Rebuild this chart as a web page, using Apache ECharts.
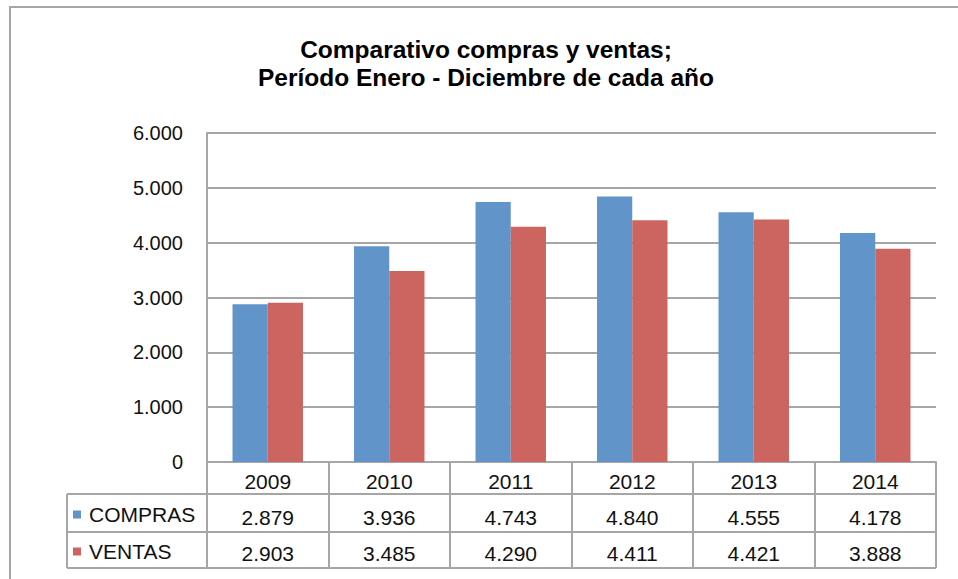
<!DOCTYPE html>
<html>
<head>
<meta charset="utf-8">
<title>Comparativo compras y ventas</title>
<script src="https://cdn.jsdelivr.net/npm/echarts@6/dist/echarts.min.js"></script>
<style>
  html, body { margin: 0; padding: 0; background: #fff; }
  #chart { width: 958px; height: 579px; }
</style>
</head>
<body>
<div id="chart"></div>
<script>
// Yearly purchases vs. sales (January - December)
const years = ['2009', '2010', '2011', '2012', '2013', '2014'];
const compras = [2879, 3936, 4743, 4840, 4555, 4178];
const ventas = [2903, 3485, 4290, 4411, 4421, 3888];
const seriesNames = ['COMPRAS', 'VENTAS'];
const yMin = 0, yMax = 6000, yStep = 1000;

// Layout of the plot and the data table underneath it
const W = 958, H = 579;
const plotLeft = 207, plotRight = 936, plotTop = 133, axisY = 462;
const tableLeft = 67;
const rowLines = [494, 532, 568];
const lineColor = '#a6a6a6';
const font = '"Liberation Sans", Arial, Helvetica, sans-serif';
const colors = ['#6195c9', '#cc655f'];
const tableFontSize = 21;

// Thousands separator with a dot: 4840 -> "4.840"
function fmt(v) {
  return String(v).replace(/\B(?=(\d{3})+(?!\d))/g, '.');
}

const chart = echarts.init(document.getElementById('chart'), null, { renderer: 'svg' });

const tableLines = rowLines.map(y => ({
  type: 'line',
  shape: { x1: tableLeft, y1: y, x2: plotRight, y2: y },
  style: { stroke: lineColor, lineWidth: 2 },
  silent: true
}));
tableLines.push({
  type: 'line',
  shape: { x1: tableLeft, y1: rowLines[0], x2: tableLeft, y2: rowLines[rowLines.length - 1] },
  style: { stroke: lineColor, lineWidth: 2 },
  silent: true
});

function valueAxis(values, margin) {
  return {
    type: 'category',
    data: years,
    gridIndex: 0,
    position: 'bottom',
    axisLine: { show: false },
    axisTick: { show: false },
    splitLine: { show: false },
    axisLabel: {
      interval: 0,
      margin: margin,
      verticalAlign: 'middle',
      fontSize: tableFontSize,
      fontFamily: font,
      color: '#111',
      formatter: (v, i) => fmt(values[i])
    }
  };
}

chart.setOption({
  animation: false,
  backgroundColor: '#fff',
  textStyle: { fontFamily: font },
  title: {
    text: 'Comparativo compras y ventas;\nPeríodo Enero - Diciembre de cada año',
    left: 486,
    top: 35,
    padding: 0,
    textAlign: 'center',
    textStyle: {
      fontSize: 24.5,
      fontWeight: 'bold',
      lineHeight: 28,
      color: '#000',
      fontFamily: font
    }
  },
  legend: {
    data: seriesNames,
    orient: 'vertical',
    left: 73,
    top: 504,
    padding: 0,
    icon: 'rect',
    itemWidth: 8,
    itemHeight: 8,
    itemGap: 16,
    selectedMode: false,
    textStyle: { fontSize: tableFontSize, color: '#111', fontFamily: font, padding: [0, 0, 0, 3] }
  },
  grid: {
    left: plotLeft,
    right: W - plotRight,
    top: plotTop,
    bottom: H - axisY,
    containLabel: false
  },
  xAxis: [
    {
      type: 'category',
      data: years,
      position: 'bottom',
      axisLine: { show: true, lineStyle: { color: lineColor, width: 2 } },
      axisTick: {
        show: true,
        interval: 0,
        length: rowLines[rowLines.length - 1] - axisY,
        lineStyle: { color: lineColor, width: 2 }
      },
      axisLabel: {
        interval: 0,
        margin: 19,
        verticalAlign: 'middle',
        fontSize: tableFontSize,
        fontFamily: font,
        color: '#111'
      },
      splitLine: { show: false }
    },
    valueAxis(compras, 55),
    valueAxis(ventas, 91)
  ],
  yAxis: {
    type: 'value',
    min: yMin,
    max: yMax,
    interval: yStep,
    axisLine: { show: true, lineStyle: { color: lineColor, width: 2 } },
    axisTick: { show: false },
    splitLine: { show: true, lineStyle: { color: lineColor, width: 2 } },
    axisLabel: {
      margin: 24,
      fontSize: 20,
      fontFamily: font,
      color: '#111',
      formatter: v => fmt(v)
    }
  },
  series: [
    {
      name: seriesNames[0],
      type: 'bar',
      xAxisIndex: 0,
      data: compras,
      barGap: '0%',
      barCategoryGap: '42%',
      itemStyle: { color: colors[0] }
    },
    {
      name: seriesNames[1],
      type: 'bar',
      xAxisIndex: 0,
      data: ventas,
      barGap: '0%',
      barCategoryGap: '42%',
      itemStyle: { color: colors[1] }
    }
  ],
  graphic: [
    {
      type: 'rect',
      shape: { x: 10, y: 7, width: 1000, height: 700 },
      style: { fill: 'none', stroke: lineColor, lineWidth: 2 },
      silent: true,
      z: -1
    }
  ].concat(tableLines)
});
</script>
</body>
</html>
